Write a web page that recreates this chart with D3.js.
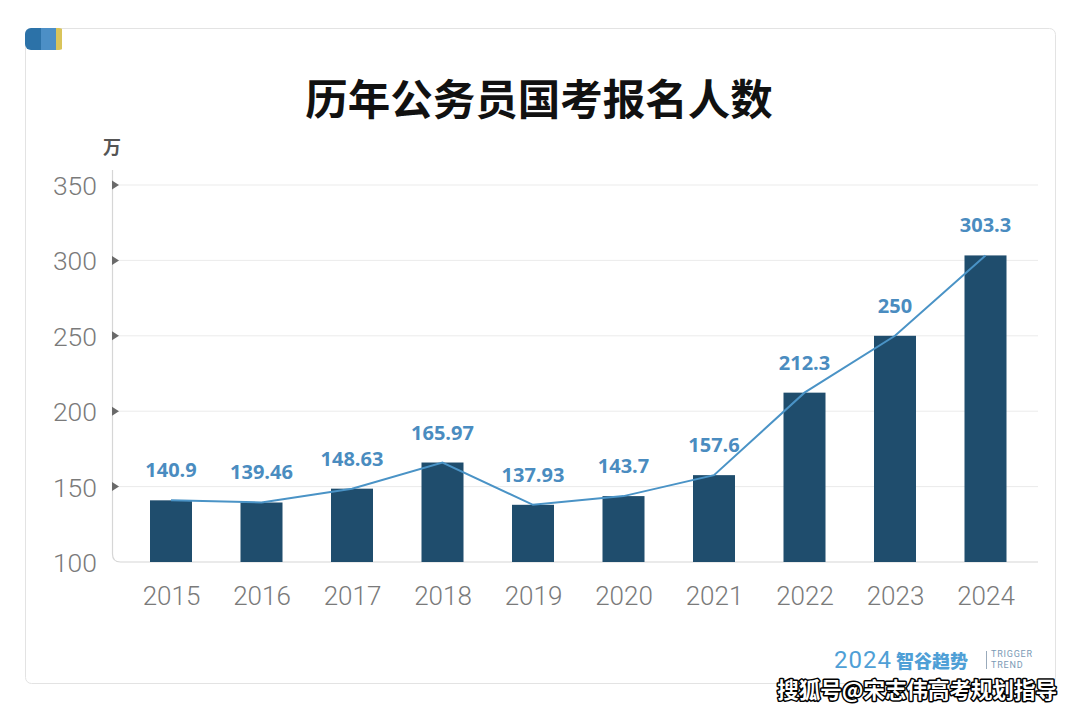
<!DOCTYPE html>
<html><head><meta charset="utf-8">
<script src="https://cdn.jsdelivr.net/npm/d3@7/dist/d3.min.js"></script>
<style>html,body{margin:0;padding:0;background:#fff;}svg{display:block;}</style>
</head><body>
<svg id="c" width="1080" height="710"></svg>
<script>
const years = ["2015","2016","2017","2018","2019","2020","2021","2022","2023","2024"];
const applicants = [140.9,139.46,148.63,165.97,137.93,143.7,157.6,212.3,250,303.3];
const valueLabels = ["140.9","139.46","148.63","165.97","137.93","143.7","157.6","212.3","250","303.3"];
const yTicks = [100,150,200,250,300,350];
const title = "历年公务员国考报名人数";
const unit = "万";

const svg = d3.select("#c");
const font = "'Noto Sans CJK SC','Noto Sans',sans-serif";

// card
svg.append("rect").attr("x",25.5).attr("y",28.5).attr("width",1030).attr("height",655)
  .attr("rx",6).attr("fill","#fff").attr("stroke","#e3e3e3");
// corner deco
const clip = svg.append("defs").append("clipPath").attr("id","cornerClip");
clip.append("rect").attr("x",25).attr("y",28).attr("width",40).attr("height",22).attr("rx",6);
const deco = svg.append("g").attr("clip-path","url(#cornerClip)");
deco.append("rect").attr("x",25).attr("y",22).attr("width",16).attr("height",28).attr("fill","#2c72a8");
deco.append("rect").attr("x",41).attr("y",22).attr("width",15).attr("height",28).attr("fill","#4c8fc6");
deco.append("rect").attr("x",56).attr("y",22).attr("width",6).attr("height",28).attr("fill","#d9c45a");

// title
svg.append("text").attr("x",539).attr("y",115).attr("text-anchor","middle")
  .attr("font-family",font).attr("font-weight",700).attr("font-size",42.5).attr("fill","#111").text(title);

const x = d3.scalePoint().domain(years).range([171,985.5]);
const y = d3.scaleLinear().domain([100,350]).range([562,185]);
const bw = 42;

// gridlines
svg.append("g").selectAll("line").data(yTicks.filter(d=>d>100)).join("line")
  .attr("x1",118).attr("x2",1038).attr("y1",d=>y(d)).attr("y2",d=>y(d))
  .attr("stroke","#ebebeb").attr("stroke-width",1);

// axis frame
svg.append("path").attr("d",`M112.5,170 L112.5,554 Q112.5,562 120.5,562 L1038,562`)
  .attr("fill","none").attr("stroke","#d6d6d6").attr("stroke-width",1.2);

// y axis labels
const yAxis = d3.axisLeft(y).tickValues(yTicks).tickSize(0).tickPadding(15);
const ga = svg.append("g").attr("transform","translate(112,0)").call(yAxis);
ga.select(".domain").remove();
ga.selectAll("text").attr("font-family","Roboto, 'Noto Sans', sans-serif").attr("font-weight",300)
  .attr("font-size",26.5).attr("fill","#7a7a7a").attr("dy","0.36em");
// arrow markers
svg.append("g").selectAll("path").data(yTicks.filter(d=>d>100)).join("path")
  .attr("d",d=>`M112,${y(d)-4.5} L119,${y(d)} L112,${y(d)+4.5} Z`).attr("fill","#6a6a6a");

// unit
svg.append("text").attr("x",112).attr("y",154).attr("text-anchor","middle")
  .attr("font-family",font).attr("font-weight",700).attr("font-size",18).attr("fill","#555").text(unit);

// bars
svg.append("g").selectAll("rect").data(applicants).join("rect")
  .attr("x",(d,i)=>x(years[i])-bw/2).attr("width",bw)
  .attr("y",d=>y(d)).attr("height",d=>y(100)-y(d)).attr("fill","#1f4d6d");

// x axis labels
const xAxis = d3.axisBottom(x).tickSize(0).tickPadding(25);
const gx = svg.append("g").attr("transform","translate(0,562)").call(xAxis);
gx.select(".domain").remove();
gx.selectAll("text").attr("font-family","Roboto, 'Noto Sans', sans-serif").attr("font-weight",300)
  .attr("font-size",26).attr("fill","#7a7a7a").attr("dy","0.71em");

// line
const line = d3.line().x((d,i)=>x(years[i])).y(d=>y(d));
svg.append("path").datum(applicants).attr("d",line).attr("fill","none")
  .attr("stroke","#4a93c6").attr("stroke-width",2);

// value labels
svg.append("g").selectAll("text").data(applicants).join("text")
  .attr("x",(d,i)=>x(years[i])).attr("y",d=>y(d)-23).attr("text-anchor","middle")
  .attr("font-family","'Open Sans','Noto Sans',sans-serif").attr("font-weight",700)
  .attr("font-size",20).attr("fill","#4a8cc0").text((d,i)=>valueLabels[i]);

// logo
const lg = svg.append("g");
lg.append("text").attr("x",834).attr("y",668).attr("font-family","Roboto, sans-serif").attr("font-weight",400)
  .attr("font-size",24).attr("letter-spacing",1).attr("fill","#4f9fd6").text("2024");
lg.append("text").attr("x",896).attr("y",668).attr("font-family",font).attr("font-weight",900)
  .attr("font-size",18).attr("fill","#4f9fd6").text("智谷趋势");
lg.append("line").attr("x1",986.5).attr("x2",986.5).attr("y1",651).attr("y2",669).attr("stroke","#9ab").attr("stroke-width",1);
lg.append("text").attr("x",991).attr("y",657).attr("font-family","Roboto, sans-serif")
  .attr("font-size",9).attr("letter-spacing",0.8).attr("fill","#7a9ab5").text("TRIGGER");
lg.append("text").attr("x",991).attr("y",668).attr("font-family","Roboto, sans-serif")
  .attr("font-size",9).attr("letter-spacing",0.8).attr("fill","#7a9ab5").text("TREND");

// watermark
svg.append("text").attr("x",1057).attr("y",698).attr("text-anchor","end")
  .attr("font-family",font).attr("font-weight",700).attr("font-size",21.5)
  .attr("fill","#fff").attr("stroke","#000").attr("stroke-width",3).attr("paint-order","stroke")
  .attr("stroke-linejoin","round").text("搜狐号@宋志伟高考规划指导");
</script>
</body></html>
